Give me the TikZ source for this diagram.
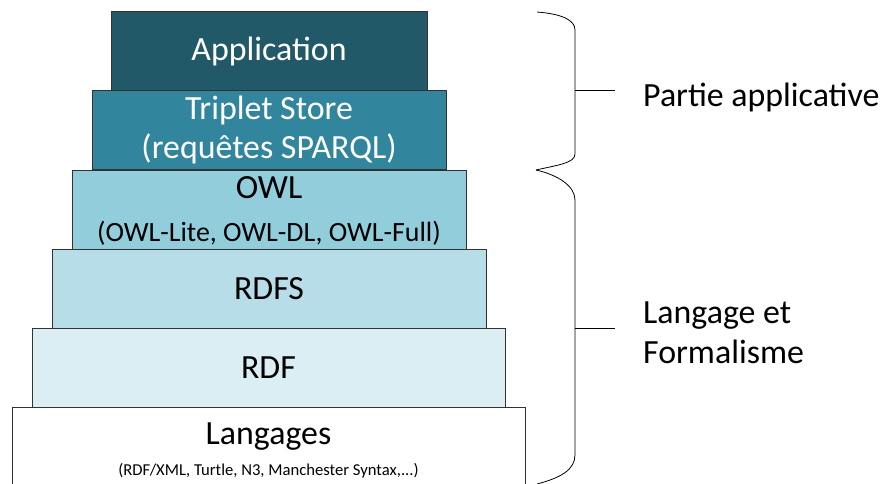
\documentclass[tikz,border=0pt]{standalone}
\usepackage{fontspec}
\setmainfont{Carlito}
\usepackage{xcolor}
\usepackage{tikz}
\usetikzlibrary{calc}
\definecolor{appfill}{RGB}{33,89,104}
\definecolor{storefill}{RGB}{49,133,156}
\definecolor{owlfill}{RGB}{146,205,220}
\definecolor{rdfsfill}{RGB}{183,222,232}
\definecolor{rdffill}{RGB}{218,238,243}
\definecolor{border}{RGB}{50,50,50}
\tikzset{
    layer/.style={
        rectangle,
        draw=border,
        line width=0.9pt,
        align=center,
        inner sep=0pt,
        minimum height=79bp,
        font=\fontsize{34}{40}\selectfont
    },
    sublbl/.style={
        inner sep=0pt,
        align=center
    },
    brace/.style={line width=0.8pt, draw=black},
    tick/.style={line width=1pt},
    sidelbl/.style={
        align=left,
        inner sep=2pt,
        font=\fontsize{34}{40}\selectfont
    }
}

\begin{document}
\begin{tikzpicture}[x=1bp, y=-1bp]

\useasboundingbox (0,0) rectangle (883,484);

% =========================
% Pile des couches
% =========================
\node[layer, fill=white, minimum width=513bp, minimum height=80bp] (langages)
    at (268.5,447) {};

\node[layer, fill=rdffill, minimum width=473bp] (rdf) at (268.5,367.5) {RDF};

\node[layer, fill=rdfsfill, minimum width=434bp] (rdfs) at (269,288.5) {RDFS};

\node[layer, fill=owlfill, minimum width=394bp] (owl) at (269,209.5) {};

\node[layer, fill=storefill, text=white, minimum width=354bp] (store)
    at (269,130) {Triplet Store\\(requêtes SPARQL)};

\node[layer, fill=appfill, text=white, minimum width=316bp,
      text depth=3bp] (app)
    at (269,50.5) {Application};

% =========================
% Textes des couches OWL et Langages
% =========================
\node[sublbl, font=\fontsize{34}{36}\selectfont] (owltitle)
    at ($(owl.center)+(0,-22)$) {OWL};
\node[sublbl, font=\fontsize{28}{30}\selectfont] (owlsub)
    at ($(owl.center)+(0,24)$) {(OWL-Lite, OWL-DL, OWL-Full)};

\node[sublbl, font=\fontsize{34}{36}\selectfont] (langtitle)
    at ($(langages.center)+(0,-10)$) {Langages};
\node[sublbl, font=\fontsize{16.7}{18}\selectfont] (langsub)
    at ($(langages.center)+(0,24)$) {(RDF/XML, Turtle, N3, Manchester Syntax,...)};

% =========================
% Accolades
% =========================
\coordinate (uptop) at (537,12);
\coordinate (tip)   at (536,170);
\coordinate (lowbot) at (537,484);
\coordinate (upmid) at (575,91);
\coordinate (lowmid) at (575,328);

\draw[brace] (uptop) .. controls (562,14) and (575,20) .. (575,30)
    -- (575,154) .. controls (575,163) and (558,165) .. (tip);

\draw[brace] (tip) .. controls (558,175) and (575,186) .. (575,200)
    -- (575,455) .. controls (575,470) and (560,478) .. (lowbot);

% =========================
% Etiquettes
% =========================
\node[sidelbl, anchor=west] (partie) at (641,97) {Partie applicative};
\node[sidelbl, anchor=west] (langage) at (641,333) {Langage et\\Formalisme};

\draw[tick, shorten >=26bp] (upmid) -- (upmid -| partie.west);
\draw[tick, shorten >=26bp] (lowmid) -- (lowmid -| langage.west);

\end{tikzpicture}
\end{document}
